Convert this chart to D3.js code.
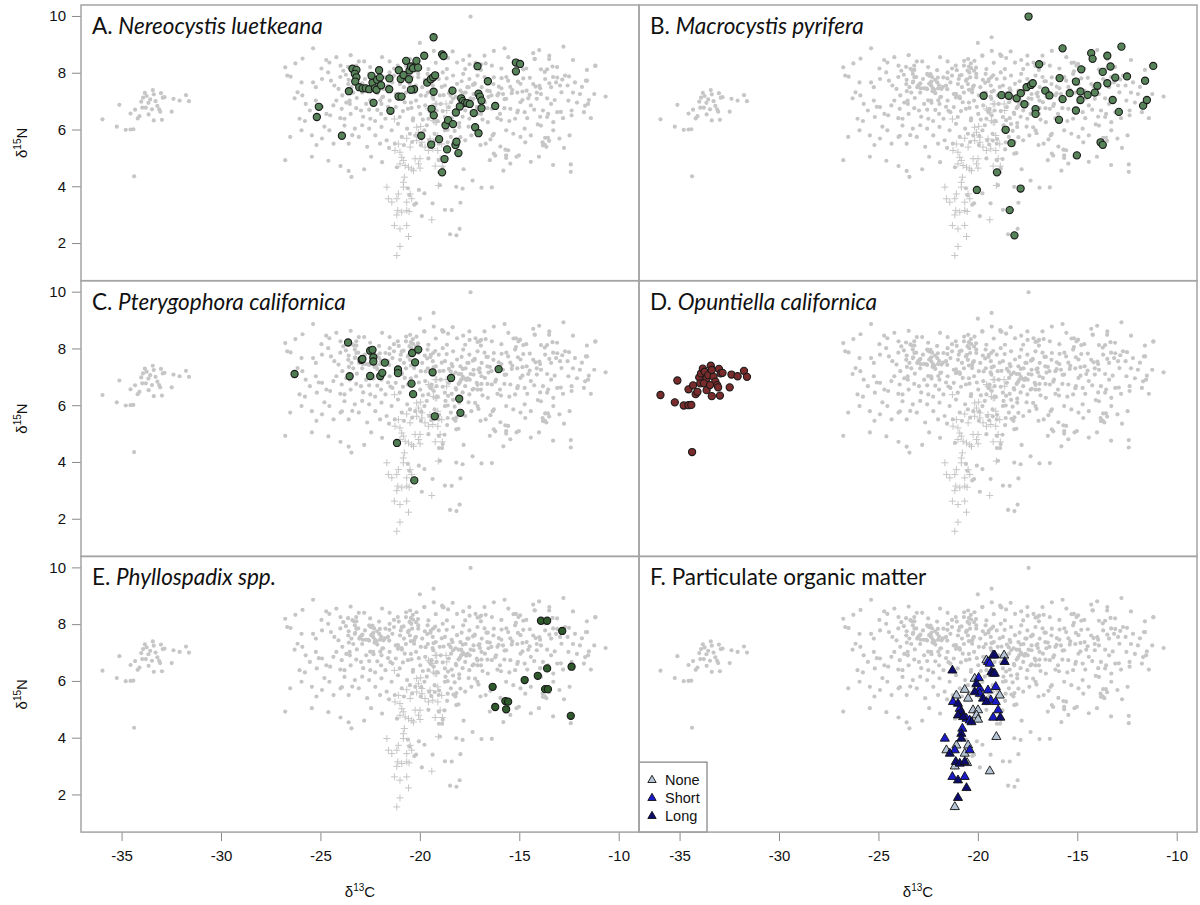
<!DOCTYPE html>
<html><head><meta charset="utf-8">
<script src="https://cdn.jsdelivr.net/npm/d3@7"></script>
<style>body{margin:0;background:#fff}svg{display:block}</style>
</head><body><svg id="c" width="1200" height="905"></svg>
<script>
// ---------- data (δ13C, δ15N) ----------
const xTicks = [-35,-30,-25,-20,-15,-10];
const yTicks = [2,4,6,8,10];

const nereocystis = [[-25.08,6.80],[-25.18,6.44],[-23.92,5.78],[-23.57,7.35],[-23.39,8.14],[-23.19,8.10],[-23.27,7.96],[-23.19,7.84],[-23.25,7.69],[-23.05,7.49],[-22.88,7.45],[-22.72,7.45],[-22.55,7.42],[-22.43,7.89],[-22.38,7.65],[-22.26,7.45],[-22.18,7.40],[-22.15,7.75],[-22.05,8.09],[-22.01,7.83],[-21.95,7.56],[-22.33,6.94],[-21.53,7.80],[-21.54,7.42],[-21.48,6.66],[-21.06,8.09],[-20.96,7.78],[-20.82,7.92],[-20.69,8.42],[-20.52,8.08],[-20.55,7.77],[-20.45,8.22],[-20.34,8.16],[-20.17,8.42],[-20.09,8.18],[-20.29,7.42],[-20.45,7.40],[-19.78,8.60],[-19.63,7.65],[-19.45,7.77],[-19.33,7.84],[-19.23,7.91],[-19.31,7.33],[-19.41,6.73],[-19.30,6.50],[-19.31,9.25],[-18.88,8.65],[-18.81,8.59],[-18.36,7.37],[-18.71,6.15],[-18.58,6.33],[-18.33,6.19],[-19.93,5.78],[-19.43,5.47],[-19.03,5.66],[-18.63,5.30],[-18.21,5.45],[-18.16,5.57],[-18.06,5.17],[-18.76,4.96],[-18.88,4.49],[-17.92,7.10],[-17.84,7.00],[-17.74,6.93],[-17.99,6.81],[-18.19,6.60],[-17.62,6.93],[-17.49,6.90],[-17.29,6.58],[-17.22,6.08],[-17.05,5.87],[-17.05,7.26],[-16.98,7.16],[-16.90,7.02],[-16.90,6.75],[-17.10,8.23],[-16.58,7.70],[-16.21,6.83],[-15.17,8.36],[-14.96,8.31],[-15.17,8.05],[-21.07,7.16],[-20.92,7.16]];

const macrocystis = [[-17.45,9.98],[-19.71,7.19],[-18.81,7.21],[-18.45,7.19],[-18.05,7.10],[-17.84,7.28],[-17.66,6.89],[-17.55,7.49],[-17.33,7.57],[-17.24,7.63],[-17.10,6.72],[-17.10,6.55],[-16.92,8.30],[-16.61,7.37],[-16.40,7.20],[-15.89,7.81],[-15.92,6.34],[-15.74,8.86],[-15.74,7.07],[-15.38,7.28],[-15.07,7.69],[-15.07,6.67],[-15.02,5.09],[-14.84,7.34],[-14.84,7.04],[-14.80,8.12],[-14.48,7.22],[-14.30,8.69],[-14.23,8.49],[-14.12,7.30],[-13.99,7.54],[-13.83,5.55],[-13.72,5.46],[-13.72,8.03],[-13.49,8.60],[-13.49,7.63],[-13.33,8.22],[-13.22,7.04],[-13.09,7.83],[-12.91,6.62],[-12.78,8.92],[-12.50,7.87],[-11.69,6.84],[-11.59,7.72],[-11.50,7.04],[-11.18,8.24],[-18.60,5.99],[-18.31,5.52],[-19.04,4.49],[-20.05,3.87],[-17.85,3.92],[-18.40,3.16],[-18.16,2.27]];

const pterygophora = [[-26.30,7.10],[-23.61,8.21],[-23.53,7.02],[-22.93,7.60],[-22.89,7.63],[-22.50,7.92],[-22.38,7.95],[-22.34,7.69],[-22.34,7.54],[-22.50,7.03],[-21.99,7.03],[-21.89,7.14],[-21.76,7.50],[-21.10,7.26],[-21.10,7.13],[-20.39,7.84],[-20.08,7.96],[-20.24,7.51],[-20.42,6.76],[-20.34,6.39],[-19.36,7.16],[-19.25,5.61],[-18.43,6.96],[-18.02,6.23],[-17.96,5.73],[-16.04,7.27],[-21.15,4.67],[-20.28,3.35]];

const opuntiella = [[-35.96,6.36],[-35.24,6.10],[-35.11,6.87],[-34.79,5.99],[-34.55,6.00],[-34.41,6.01],[-34.55,6.56],[-34.32,6.70],[-34.19,6.39],[-34.10,6.47],[-34.01,6.98],[-33.92,7.12],[-33.83,7.29],[-33.74,7.18],[-33.65,6.94],[-33.56,7.06],[-33.43,7.39],[-33.38,7.24],[-33.29,7.00],[-33.20,6.83],[-33.11,6.71],[-33.06,6.63],[-33.02,7.28],[-32.93,7.12],[-32.84,7.14],[-33.38,6.32],[-32.97,6.34],[-33.64,6.53],[-32.48,6.63],[-32.39,7.08],[-32.08,7.02],[-31.76,7.21],[-31.61,7.00],[-34.37,4.35],[-33.96,6.77],[-33.78,6.77],[-33.47,6.71]];

const phyllospadix = [[-16.34,5.79],[-16.21,5.08],[-15.70,5.29],[-15.56,5.27],[-15.66,5.00],[-14.73,6.03],[-14.07,6.18],[-13.91,8.12],[-13.60,8.12],[-13.60,6.44],[-13.70,5.71],[-13.56,5.71],[-12.84,7.76],[-12.37,6.50],[-12.41,4.77]];

const pomNone = [[-18.68,6.90],[-19.57,6.73],[-20.16,6.08],[-18.90,5.49],[-20.66,5.69],[-21.08,5.49],[-20.49,5.38],[-20.24,4.97],[-19.99,4.97],[-20.07,4.79],[-19.99,4.64],[-19.07,4.03],[-21.08,3.73],[-21.58,3.56],[-20.49,3.73],[-20.66,3.44],[-21.16,2.99],[-20.54,3.11],[-19.40,2.82],[-21.16,1.56]];
const pomShort = [[-19.23,6.90],[-19.49,6.67],[-19.40,6.61],[-19.96,6.11],[-19.90,5.73],[-19.90,5.55],[-19.49,5.67],[-19.10,5.79],[-19.35,5.32],[-19.10,5.26],[-21.25,5.26],[-20.91,5.02],[-20.57,4.67],[-20.41,4.61],[-18.98,4.97],[-19.23,4.71],[-20.78,4.32],[-21.66,3.97],[-21.16,3.56],[-20.41,3.56],[-21.28,2.62],[-20.66,2.62]];
const pomLong = [[-19.15,6.90],[-18.65,6.67],[-19.32,6.31],[-19.23,6.26],[-19.15,6.26],[-21.28,6.37],[-20.07,5.90],[-20.16,5.61],[-19.74,5.38],[-19.57,5.26],[-21.00,5.20],[-20.83,4.91],[-21.00,4.79],[-20.74,4.73],[-20.32,4.55],[-18.87,4.71],[-20.83,4.14],[-20.83,3.97],[-21.41,3.44],[-21.11,3.15],[-20.91,3.09],[-20.66,3.15],[-21.00,2.50],[-20.57,2.23],[-21.00,1.88]];

const consumers = [
[-26.77,8.19],[-26.50,7.86],[-26.26,8.33],[-25.37,8.86],[-24.71,8.45],[-24.55,8.36],[-23.48,8.62],[-23.07,8.40],[-22.80,8.40],[-23.99,8.25],[-23.85,8.07],[-23.31,8.10],[-21.52,8.40],[-21.11,8.25],[-20.49,8.48],[-20.35,8.33],[-19.77,8.60],[-19.30,8.77],[-18.85,8.60],[-18.58,8.52],[-18.13,8.36],[-17.82,8.45],[-17.51,8.60],[-17.20,8.36],[-17.00,8.25],[-16.69,8.33],[-16.38,8.25],[-16.28,8.77],[-15.29,8.35],[-15.04,8.25],[-14.22,8.48],[-13.50,8.48],[-11.17,8.25],[-20.19,8.07],[-19.57,8.13],[-18.64,8.13],[-17.72,8.13],[-16.93,8.10],
[-26.67,7.90],[-25.95,7.66],[-26.15,7.31],[-25.37,7.66],[-25.23,7.49],[-24.92,7.78],[-24.61,8.01],[-24.47,7.72],[-24.09,7.43],[-23.72,7.93],[-23.58,7.75],[-23.44,7.49],[-23.27,7.66],[-23.00,7.55],[-22.76,7.78],[-22.55,7.96],[-22.45,7.61],[-22.28,7.35],[-22.14,7.28],[-22.04,7.66],[-21.83,7.43],[-21.73,7.84],[-21.52,8.01],[-21.38,7.66],[-21.21,7.25],[-20.91,7.90],[-20.80,7.49],[-20.60,7.72],[-20.43,8.01],[-20.29,7.31],[-20.08,7.84],[-19.88,7.49],[-19.61,7.96],[-19.47,7.70],[-19.20,7.37],[-19.05,7.78],[-18.85,8.01],[-18.74,7.55],[-18.54,7.28],[-18.33,7.90],[-18.13,7.61],[-17.96,7.37],[-17.82,7.96],[-17.61,7.49],[-17.51,7.78],[-17.30,7.25],[-17.10,7.90],[-16.89,7.49],[-16.65,7.70],[-16.48,7.35],[-16.28,7.84],[-16.03,7.51],[-15.82,7.25],[-15.56,7.72],[-15.35,7.39],[-15.21,7.96],[-14.94,7.61],[-14.63,7.37],[-14.47,7.82],[-14.18,7.51],[-13.91,7.25],[-13.70,7.78],[-13.40,7.49],[-13.15,7.66],[-12.88,7.31],[-12.57,7.55],[-12.20,7.66],[-11.65,7.72],[-11.95,7.25],[-11.23,7.25],[-10.66,7.16],
[-25.91,7.20],[-25.74,6.90],[-25.53,6.67],[-26.05,6.38],[-25.78,6.30],[-25.23,7.02],[-24.92,6.79],[-24.51,6.50],[-24.20,7.02],[-23.93,6.73],[-23.79,6.38],[-23.52,6.90],[-23.48,6.55],[-23.17,7.11],[-22.96,6.67],[-22.70,6.90],[-22.49,6.38],[-22.35,7.02],[-22.14,6.69],[-21.93,6.90],[-21.73,6.38],[-21.52,7.02],[-21.38,6.61],[-21.21,6.79],[-21.01,6.44],[-20.76,6.96],[-20.60,6.73],[-20.35,6.32],[-20.19,7.02],[-19.98,6.55],[-19.73,6.85],[-19.57,6.38],[-19.32,7.08],[-19.16,6.67],[-18.95,6.90],[-18.74,6.44],[-18.54,6.79],[-18.33,7.08],[-18.17,6.55],[-17.92,6.90],[-17.72,6.67],[-17.51,6.38],[-17.30,7.08],[-17.14,6.79],[-16.93,6.55],[-16.73,6.96],[-16.58,6.26],[-16.38,6.73],[-16.17,6.90],[-15.97,6.55],[-15.66,7.08],[-15.45,6.73],[-15.21,6.38],[-14.94,6.96],[-14.73,6.61],[-14.42,6.85],[-14.12,7.08],[-13.81,6.67],[-13.40,6.90],[-13.09,6.61],[-12.53,7.02],[-12.37,6.67],[-11.75,6.61],[-11.54,6.90],[-13.29,6.26],
[-26.52,5.74],[-25.95,5.97],[-25.43,5.79],[-24.92,5.68],[-24.55,5.97],[-24.34,5.50],[-23.99,5.74],[-23.79,6.14],[-23.58,5.50],[-23.27,6.03],[-23.07,5.74],[-22.65,5.39],[-22.55,6.03],[-22.24,5.79],[-21.93,6.09],[-21.67,5.62],[-21.42,5.97],[-21.26,5.50],[-20.91,5.74],[-20.64,6.03],[-20.39,5.56],[-20.23,5.79],[-19.77,5.97],[-19.53,5.62],[-19.26,5.85],[-19.05,5.50],[-18.74,5.97],[-18.44,5.74],[-18.02,6.09],[-17.72,5.62],[-17.41,5.79],[-17.10,5.97],[-16.69,5.50],[-16.28,5.85],[-15.66,5.97],[-14.94,5.74],[-14.42,5.79],[-13.91,6.14],[-13.81,5.44],[-13.64,5.39],[-13.29,5.97],[-12.98,5.68],[-12.47,5.79],
[-26.77,4.92],[-25.43,5.04],[-23.99,4.71],[-23.58,4.54],[-23.44,4.33],[-22.45,5.04],[-19.57,4.98],[-19.05,4.92],[-18.85,4.63],[-18.17,5.15],[-16.48,4.92],[-16.28,5.15],[-15.66,5.09],[-15.45,4.80],[-15.14,5.04],[-14.42,4.86],[-14.01,5.04],[-12.41,4.51],
[-20.60,3.93],[-19.77,3.75],[-18.99,4.04],[-18.17,3.98],[-17.96,3.42],[-16.38,3.96],[-19.36,3.40],[-18.74,3.17],[-18.48,2.31],[-20.19,3.40],[-20.53,3.69],
[-24.30,7.55],[-24.00,7.85],[-23.90,7.20],[-23.60,7.60],[-23.35,7.30],[-23.10,7.85],[-22.90,7.30],[-22.60,7.45],[-22.30,7.85],[-22.00,7.45],[-21.85,7.15],[-21.60,7.55],[-21.30,7.90],[-21.00,7.60],[-20.90,7.10],[-20.70,7.30],[-20.50,7.60],[-20.20,7.55],[-19.95,7.20],[-19.75,7.75],[-19.60,7.30],[-19.35,7.55],[-19.00,7.20],[-18.90,7.50],[-18.65,7.80],[-18.40,7.45],[-18.20,7.15],[-17.90,7.70],[-17.70,7.30],[-17.45,7.10],[-17.25,7.60],[-17.00,7.30],[-16.75,7.85],[-16.55,7.15],[-16.30,7.60],[-16.10,7.20],[-15.90,7.45],[-15.65,7.85],[-15.45,7.50],[-15.10,7.30],[-14.80,7.80],[-14.55,7.10],[-14.30,7.60],[-13.95,7.45],[-13.60,7.10],[-13.30,7.85],[-12.95,7.55],[-12.70,7.90],[-12.30,7.30],[-11.85,7.50],
[-24.70,6.55],[-24.35,6.85],[-24.00,6.40],[-23.70,6.95],[-23.20,6.75],[-22.85,6.45],[-22.55,6.70],[-22.25,6.30],[-21.95,6.55],[-21.60,6.80],[-21.10,6.20],[-20.85,6.65],[-20.45,6.95],[-20.05,6.80],[-19.85,6.35],[-19.45,6.60],[-19.10,6.30],[-18.85,6.65],[-18.40,6.40],[-18.05,6.75],[-17.85,6.45],[-17.60,6.95],[-17.35,6.55],[-16.85,6.35],[-16.60,6.75],[-16.10,6.40],[-15.75,6.75],[-15.50,6.30],[-15.10,6.60],[-14.60,6.40],[-14.25,6.70],[-13.95,6.45],[-13.55,6.55],[-12.80,6.40],[-12.10,6.95],[-11.40,6.40],
[-25.20,5.45],[-24.80,6.10],[-23.40,5.80],[-22.90,6.15],[-22.00,5.50],[-21.55,5.35],[-20.80,5.45],[-20.50,5.85],[-19.95,5.45],[-19.65,6.15],[-18.60,5.55],[-18.25,5.95],[-17.55,6.10],[-16.95,5.45],[-16.45,5.65],[-15.95,5.40],[-15.30,5.85],[-14.70,5.55],[-13.50,5.60],[-12.75,5.35],
[-25.90,8.50],[-24.95,8.15],[-24.20,8.55],[-23.20,8.25],[-22.50,8.20],[-21.90,8.55],[-21.30,8.15],[-20.70,8.25],[-20.00,9.05],[-19.20,8.35],[-18.35,8.75],[-17.50,8.30],[-16.75,8.60],[-15.90,8.15],[-15.55,8.55],[-14.65,8.15],[-14.00,8.80],[-13.10,8.20],[-12.30,8.45],[-11.60,8.10],
[-22.80,4.60],[-21.90,4.85],[-17.80,4.60],[-17.35,4.20],[-16.90,3.95],[-19.90,2.95],[-18.00,2.50],[-15.80,4.55],[-13.30,4.75],[-24.60,4.90]];

const legendLabels = ['None','Short','Long'];

// ---------- layout ----------
const svg = d3.select('#c');
const L0 = 81, colW = 558, T0 = 5, rowH = 275.7;
const x = d3.scaleLinear().domain([-37.04,-8.98]).range([0,colW]);
const y = d3.scaleLinear().domain([0.673,10.387]).range([rowH,0]);
const FONT = "'Liberation Sans', Arial, Helvetica, sans-serif";
const TFONT = "Lato, 'Open Sans', sans-serif";

const greyAll = consumers.concat(nereocystis, macrocystis, pterygophora, opuntiella, phyllospadix);
const pomAll = pomNone.concat(pomShort, pomLong);

const panels = [
  {letter:'A. ', name:'Nereocystis luetkeana', italic:true, col:0,row:0, data:nereocystis, fill:'#578359'},
  {letter:'B. ', name:'Macrocystis pyrifera', italic:true, col:1,row:0, data:macrocystis, fill:'#578359'},
  {letter:'C. ', name:'Pterygophora californica', italic:true, col:0,row:1, data:pterygophora, fill:'#4f7d52'},
  {letter:'D. ', name:'Opuntiella californica', italic:true, col:1,row:1, data:opuntiella, fill:'#7a2b2b'},
  {letter:'E. ', name:'Phyllospadix spp.', italic:true, col:0,row:2, data:phyllospadix, fill:'#2f5a2c'},
  {letter:'F. Particulate organic matter', name:'', italic:false, col:1,row:2, data:null, fill:null}
];
const pomStyles = [
  {data:pomNone, fill:'#b4c4d4'},
  {data:pomShort, fill:'#1a1ac8'},
  {data:pomLong, fill:'#0c0c6e'}
];
const tri = d3.symbol().type(d3.symbolTriangle).size(36);
const fmt = d => String(d);

panels.forEach(p => {
  const g = svg.append('g').attr('transform', `translate(${L0+p.col*colW},${T0+p.row*rowH})`);
  g.append('rect').attr('width', colW).attr('height', rowH).attr('fill', '#fff');
  g.append('g').selectAll('circle').data(greyAll).join('circle')
    .attr('cx', d => x(d[0])).attr('cy', d => y(d[1])).attr('r', 2.1).attr('fill', '#c6c6c6');
  g.append('g').selectAll('path').data(pomAll).join('path')
    .attr('d', d => `M${x(d[0])-3.5},${y(d[1])}h7M${x(d[0])},${y(d[1])-3.5}v7`)
    .attr('stroke', '#c6c6c6').attr('stroke-width', 1).attr('fill', 'none');
  if (p.data) {
    g.append('g').selectAll('circle').data(p.data).join('circle')
      .attr('cx', d => x(d[0])).attr('cy', d => y(d[1])).attr('r', 3.6)
      .attr('fill', p.fill).attr('stroke', '#1a1a1a').attr('stroke-width', 1.1);
  } else {
    pomStyles.forEach(s => {
      g.append('g').selectAll('path').data(s.data).join('path')
        .attr('transform', d => `translate(${x(d[0])},${y(d[1])})`).attr('d', tri)
        .attr('fill', s.fill).attr('stroke', '#111').attr('stroke-width', 0.9);
    });
    const lg = g.append('g').attr('transform', `translate(0,${rowH-70})`);
    lg.append('rect').attr('width', 68).attr('height', 70).attr('fill', '#fff')
      .attr('stroke', '#666').attr('stroke-width', 1);
    pomStyles.forEach((s,i) => {
      const yy = 18 + i*18;
      lg.append('path').attr('transform', `translate(13,${yy})`).attr('d', d3.symbol().type(d3.symbolTriangle).size(30))
        .attr('fill', s.fill).attr('stroke', '#111').attr('stroke-width', 0.9);
      lg.append('text').attr('x', 26).attr('y', yy+5).text(legendLabels[i])
        .style('font-family', FONT).style('font-size', '14.5px').attr('fill', '#111');
    });
  }
  const t = g.append('text').attr('x', 11).attr('y', 29).style('font-family', TFONT)
    .style('font-size', '22.5px').attr('fill', '#111');
  t.append('tspan').text(p.letter);
  if (p.name) t.append('tspan').style('font-style', 'italic').text(p.name);
  const isBottom = p.row === 2;
  const xa = g.append('g').attr('transform', `translate(0,${rowH})`)
    .call(d3.axisBottom(x).tickValues(xTicks).tickSize(isBottom ? 9 : 4).tickPadding(9)
      .tickFormat(isBottom ? fmt : () => ''));
  xa.select('.domain').remove();
  xa.selectAll('line').attr('stroke', '#8a8a8a');
  xa.selectAll('text').style('font-family', FONT).style('font-size', '15px').attr('fill', '#111');
  if (p.col === 0) {
    const ya = g.append('g').call(d3.axisLeft(y).tickValues(yTicks).tickSize(9).tickPadding(6).tickFormat(fmt));
    ya.select('.domain').remove();
    ya.selectAll('line').attr('stroke', '#8a8a8a');
    ya.selectAll('text').style('font-family', FONT).style('font-size', '15px').attr('fill', '#111');
    const yl = g.append('text').attr('transform', `translate(-54,${rowH/2}) rotate(-90)`)
      .attr('text-anchor', 'middle').style('font-family', FONT).style('font-size', '15px').attr('fill', '#111');
    yl.append('tspan').text('δ');
    yl.append('tspan').style('font-size', '10px').attr('dy', -6).text('15');
    yl.append('tspan').attr('dy', 6).text('N');
  }
  if (isBottom) {
    const xl = g.append('text').attr('x', colW/2).attr('y', rowH+65)
      .attr('text-anchor', 'middle').style('font-family', FONT).style('font-size', '15px').attr('fill', '#111');
    xl.append('tspan').text('δ');
    xl.append('tspan').style('font-size', '10px').attr('dy', -6).text('13');
    xl.append('tspan').attr('dy', 6).text('C');
  }
});
panels.forEach(p => {
  svg.append('rect').attr('x', L0+p.col*colW).attr('y', T0+p.row*rowH)
    .attr('width', colW).attr('height', rowH).attr('fill', 'none')
    .attr('stroke', '#a4a4a4').attr('stroke-width', 1.5);
});
</script></body></html>
